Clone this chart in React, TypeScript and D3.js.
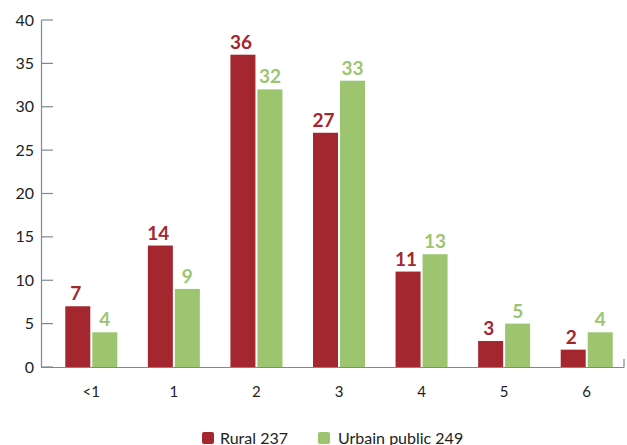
import React from "react";
import * as d3 from "d3";

const categories = ["<1", "1", "2", "3", "4", "5", "6"];
const rural = [7, 14, 36, 27, 11, 3, 2];
const urbain = [4, 9, 32, 33, 13, 5, 4];
const seriesNames = ["Rural 237", "Urbain public 249"];
const yTicks = [0, 5, 10, 15, 20, 25, 30, 35, 40];

const RED = "#A4262E";
const GREEN = "#9DC46E";
const AXIS = "#7F8893";
const FONT = "Lato, 'Open Sans', sans-serif";

export default function App() {
  const width = 627;
  const height = 445;

  const x = d3.scaleBand<string>().domain(categories).range([50, 628]);
  const y = d3.scaleLinear().domain([0, 40]).range([367, 20]);
  const barW = 25;
  const gap = 2;

  const series = [
    { name: seriesNames[0], values: rural, color: RED },
    { name: seriesNames[1], values: urbain, color: GREEN },
  ];

  return (
    <svg width={width} height={height} style={{ position: "absolute", left: 0, top: 0 }} fontFamily={FONT}>
      {/* y axis */}
      <line x1={41.5} x2={41.5} y1={y(40)} y2={y(0)} stroke={AXIS} strokeWidth={1.2} />
      {yTicks.map((t) => (
        <g key={t}>
          <line x1={41.5} x2={53} y1={y(t)} y2={y(t)} stroke={AXIS} strokeWidth={1.2} />
          <text x={34} y={y(t)} dy="0.35em" textAnchor="end" fontSize={16} fill="#222">
            {t}
          </text>
        </g>
      ))}

      {/* bars */}
      {series.map((s, si) =>
        s.values.map((v, i) => {
          const cx = (x(categories[i]) as number) + x.bandwidth() / 2;
          const bx = si === 0 ? cx - gap / 2 - barW : cx + gap / 2;
          return (
            <g key={`${si}-${i}`}>
              <rect x={bx} y={y(v)} width={barW} height={y(0) - y(v)} fill={s.color} />
              <text
                x={bx + barW / 2 - (si === 0 ? 2 : 0)}
                y={y(v) - 6}
                textAnchor="middle"
                fontSize={19}
                fontWeight="bold"
                fill={s.color}
              >
                {v}
              </text>
            </g>
          );
        })
      )}

      {/* x axis */}
      <line x1={41} x2={624} y1={367.5} y2={367.5} stroke={AXIS} strokeWidth={1.2} />
      <line x1={624} x2={624} y1={359} y2={367.5} stroke={AXIS} strokeWidth={1.2} />
      {categories.map((c) => (
        <text
          key={c}
          x={(x(c) as number) + x.bandwidth() / 2}
          y={397}
          textAnchor="middle"
          fontSize={15}
          fill="#222"
        >
          {c}
        </text>
      ))}

      {/* legend */}
      <g>
        <rect x={202} y={432} width={12} height={12} rx={2} fill={RED} />
        <text x={220} y={444} fontSize={16} fill="#222">{seriesNames[0]}</text>
        <rect x={318} y={432} width={12} height={12} rx={2} fill={GREEN} />
        <text x={338} y={444} fontSize={16} fill="#222">{seriesNames[1]}</text>
      </g>
    </svg>
  );
}
